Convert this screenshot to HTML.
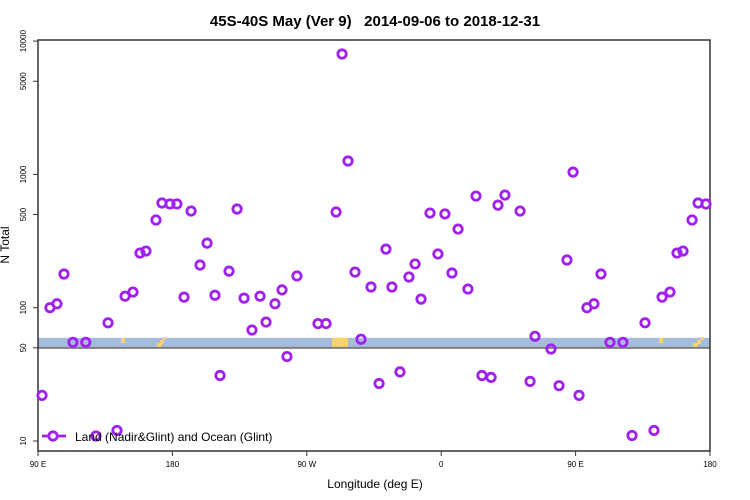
<!DOCTYPE html>
<html><head><meta charset="utf-8"><style>
body{margin:0;background:#fff;width:750px;height:500px;overflow:hidden}
svg{display:block;font-family:"Liberation Sans",sans-serif}
</style></head><body>
<svg id="chart" width="750" height="500">
<text x="375" y="26" text-anchor="middle" font-size="15" font-weight="bold" style="white-space:pre">45S-40S May (Ver 9)   2014-09-06 to 2018-12-31</text>
<text x="375" y="488" text-anchor="middle" font-size="12">Longitude (deg E)</text>
<text transform="translate(9,245) rotate(-90)" text-anchor="middle" font-size="12">N Total</text>
</svg>
<script>
// longitude index: 90E=90, 180=180, 90W=270, 0=360, 90E=450, 180=540
const lons = [92.7,98,102.7,107.4,113.4,122,128.8,136.9,142.9,148.3,153.6,158.3,162.3,169,173,178.4,183,187.8,192.5,198.5,203.2,208.5,211.9,217.9,223.3,228,233.3,238.7,242.7,248.7,253.4,256.7,263.4,277.5,282.9,289.6,293.6,297.6,302.3,306.3,313,318.4,323,327,332.4,338.4,342.5,346.5,352.5,357.8,362.5,367.2,371.3,377.9,383.3,387.3,393.4,398,402.7,412.8,419.5,422.8,433.5,438.9,444.2,448.3,452.3,457.6,462.3,467,473,481.7,487.8,496.5,502.5,507.9,513.2,517.9,521.9,528,532,537.3];
const counts = [22,100,107,179,55,55,10.9,77,12,122,131,257,266,455,610,600,600,120,531,209,305,124,31,188,550,118,68,122,78,107,136,43,173,76,76,522,8000,1260,185,58,143,27,275,143,33,170,213,116,513,253,505,182,389,138,688,31,30,588,700,531,28,61,49,26,228,1040,22,100,107,179,55,55,11,77,12,120,131,257,266,455,610,600];
const xTicks = [90,180,270,360,450,540];
const xTickLabels = ["90 E","180","90 W","0","90 E","180"];
const yTicks = [10,50,100,500,1000,5000,10000];
const yTickLabels = ["10","50","100","500","1000","5000","10000"];

const NS="http://www.w3.org/2000/svg";
const svg=document.getElementById('chart');
const X0=38,X1=710,Y10=441,DEC=133.3,TOP=40,BOT=451;
const xs=l=>X0+(l-90)*(X1-X0)/450;
const ys=v=>Y10-(Math.log10(v)-1)*DEC;
function mk(t,a,p){const e=document.createElementNS(NS,t);for(const k in a)e.setAttribute(k,a[k]);(p||svg).appendChild(e);return e;}

let band=mk('rect',{x:X0,y:ys(50)-10,width:X1-X0,height:10,fill:'#a6bcdc'});


const land=[[121,338,4,5],[157,343,5,4],[160,340,4,4],[163,337,3,3],[332,338,16,10],[659,338,4,5],[693,343,5,4],[697,340,4,4],[701,337,3,3]];
land.forEach(r=>{const e=mk('rect',{x:r[0],y:r[1],width:r[2],height:r[3],fill:'#fcd26a'});

});
let ref=mk('line',{x1:X0,x2:X1,y1:ys(50),y2:ys(50),stroke:'#7f7f7f','stroke-width':2});



let fr=mk('path',{d:`M${X0},${TOP}H${X1}V${BOT}H${X0}Z`,fill:'none',stroke:'#333','stroke-width':1.5});



xTicks.forEach((t,i)=>{const x=xs(t);
mk('line',{x1:x,x2:x,y1:BOT,y2:BOT+5,stroke:'#333'});
const tx=mk('text',{x:x,y:BOT+16,'text-anchor':'middle','font-size':8});tx.textContent=xTickLabels[i];

});
yTicks.forEach((t,i)=>{const y=ys(t);
mk('line',{x1:X0-5,x2:X0,y1:y,y2:y,stroke:'#333'});
const tx=mk('text',{transform:`translate(${X0-12},${y}) rotate(-90)`,'text-anchor':'middle','font-size':8});tx.textContent=yTickLabels[i];

});

lons.forEach((l,i)=>{const c=mk('circle',{cx:xs(l),cy:ys(counts[i]),r:4.2,fill:'none',stroke:'#a020f0','stroke-width':2.8});

});

const g=mk('g',{});


mk('line',{x1:42,x2:66,y1:436,y2:436,stroke:'#a020f0','stroke-width':2.8},g);
mk('circle',{cx:53,cy:436,r:4.2,fill:'#fff',stroke:'#a020f0','stroke-width':2.8},g);
const lt=mk('text',{x:75,y:441,'font-size':12},g);lt.textContent='Land (Nadir&Glint) and Ocean (Glint)';
</script>
</body></html>
